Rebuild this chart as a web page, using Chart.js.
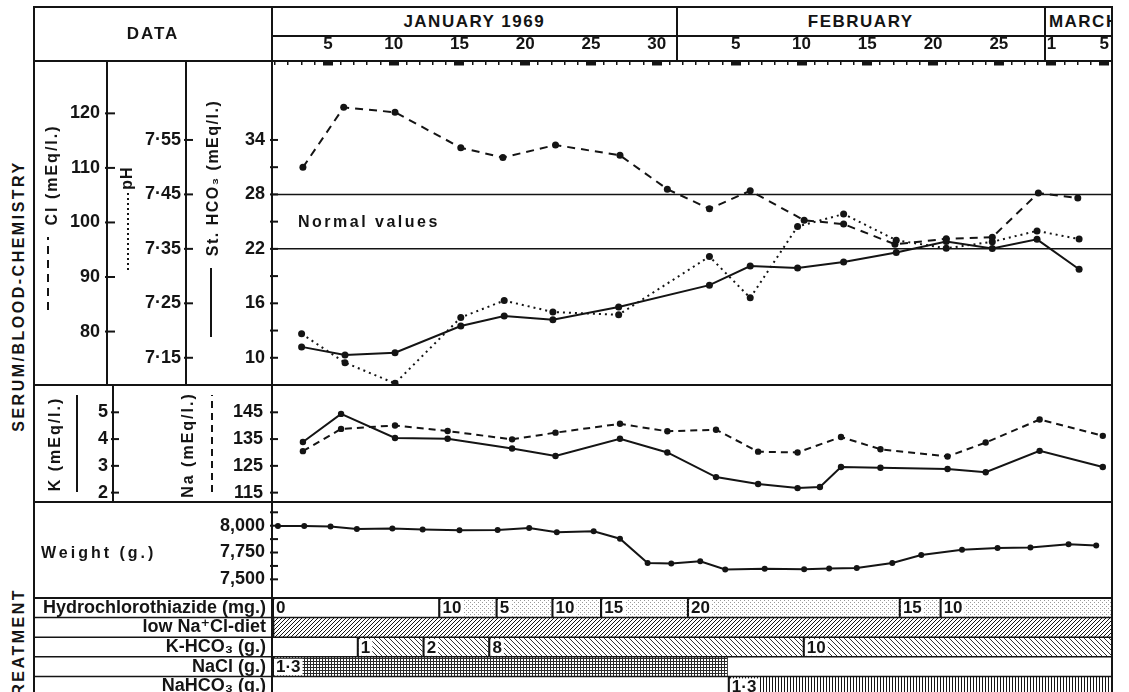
<!DOCTYPE html>
<html>
<head>
<meta charset="utf-8">
<title>Serum chemistry and treatment, Jan–Mar 1969</title>
<script src="https://cdn.jsdelivr.net/npm/chart.js@4.4.1/dist/chart.umd.min.js"></script>
<style>
  html, body { margin: 0; padding: 0; background: #fff; }
  #page {
    position: relative; width: 1129px; height: 692px; overflow: hidden; background: #fff;
    font-family: 'Liberation Sans', 'DejaVu Sans', sans-serif; font-weight: bold; color: #141414;
  }
  canvas { position: absolute; }
</style>
</head>
<body>
<div id="page">
  <canvas id="chem" width="1078" height="349" style="left:34px; top:36px"></canvas>
  <canvas id="elec" width="1078" height="117" style="left:34px; top:385px"></canvas>
  <canvas id="weight" width="1078" height="96" style="left:34px; top:502px"></canvas>
  <canvas id="treat" width="1078" height="98" style="left:34px; top:598px"></canvas>
</div>
<script>
const ink = '#141414';
Chart.defaults.font.family = "'Liberation Sans', 'DejaVu Sans', sans-serif";
Chart.defaults.font.weight = 'bold';
Chart.defaults.color = ink;

// x axis = day counted from 1 January 1969 (32 = 1 Feb, 60 = 1 Mar)
const dayRange = [0.75, 64.6];
const dayTicks = [5, 10, 15, 20, 25, 30, 36, 41, 46, 51, 56, 60, 64];
const dayTickLabels = ['5', '10', '15', '20', '25', '30', '5', '10', '15', '20', '25', '1', '5'];
const monthNames = ['JANUARY 1969', 'FEBRUARY', 'MARCH'];
const monthFirstDays = [1, 32, 60];

// serum / blood chemistry
const clDays = [3.1, 6.2, 10.1, 15.1, 18.3, 22.3, 27.2, 30.8, 34, 37.1, 41.2, 44.2, 48.1, 52, 55.5, 59, 62];
const clValues = [110.1, 121.1, 120.2, 113.7, 111.9, 114.2, 112.3, 106.1, 102.5, 105.8, 100.4, 99.7, 96.0, 97.0, 97.3, 105.4, 104.5];
const chemDays = [3, 6.3, 10.1, 15.1, 18.4, 22.1, 27.1, 34, 37.1, 40.7, 44.2, 48.2, 52, 55.5, 58.9, 62.1];
const phValues = [7.194, 7.141, 7.103, 7.224, 7.255, 7.234, 7.229, 7.336, 7.260, 7.391, 7.414, 7.366, 7.351, 7.363, 7.383, 7.368];
const hco3Values = [11.2, 10.3, 10.55, 13.5, 14.6, 14.2, 15.6, 18.0, 20.1, 19.9, 20.55, 21.6, 22.8, 22.05, 23.05, 19.75];
const normalHco3 = [22, 28];

const clRange = [70.2, 129.6];
const phRange = [7.100, 7.695];
const hco3Range = [7.0, 42.7];
const clTicks = [80, 90, 100, 110, 120];
const phTicks = [7.15, 7.25, 7.35, 7.45, 7.55];
const hco3Ticks = [10, 16, 22, 28, 34];
const hco3MinorTicks = [13, 19, 25, 31];

// electrolytes
const kDays = [3.1, 6, 10.1, 14.1, 19, 22.3, 27.2, 30.8, 34.5, 37.7, 40.7, 42.4, 44, 47, 52.1, 55, 59.1, 63.9];
const kValues = [3.89, 4.94, 4.04, 4.01, 3.65, 3.37, 4.01, 3.50, 2.58, 2.32, 2.17, 2.21, 2.96, 2.93, 2.88, 2.76, 3.56, 2.96];
const naDays = [3.1, 6, 10.1, 14.1, 19, 22.3, 27.2, 30.8, 34.5, 37.7, 40.7, 44, 47, 52.1, 55, 59.1, 63.9];
const naValues = [130.5, 138.8, 140.1, 138.0, 134.9, 137.4, 140.7, 137.9, 138.5, 130.3, 130.0, 135.8, 131.2, 128.5, 133.7, 142.3, 136.2];
const kRange = [1.65, 6.02];
const naRange = [111.5, 155.2];
const kTicks = [2, 3, 4, 5];
const naTicks = [115, 125, 135, 145];

// body weight
const weightDays = [1.2, 3.2, 5.2, 7.2, 9.9, 12.2, 15, 17.9, 20.3, 22.4, 25.2, 27.2, 29.3, 31.1, 33.3, 35.2, 38.2, 41.2, 43.1, 45.2, 47.9, 50.1, 53.2, 55.9, 58.4, 61.3, 63.4];
const weightValues = [7997, 7997, 7993, 7970, 7974, 7964, 7957, 7961, 7978, 7938, 7949, 7879, 7652, 7648, 7669, 7592, 7599, 7595, 7602, 7605, 7652, 7726, 7775, 7792, 7796, 7828, 7815];
const weightRange = [7326, 8221];
const weightTicks = [7500, 7750, 8000];
const weightMinorTicks = [7625, 7875, 8125];

// treatment
const treatmentNames = ['Hydrochlorothiazide (mg.)', 'low Na⁺Cl-diet', 'K-HCO₃ (g.)', 'NaCl (g.)', 'NaHCO₃ (g.)'];
const treatmentEnd = 64.6;
const hctzStarts = [0.75, 13.4, 17.75, 22.0, 25.7, 32.3, 48.4, 51.5];
const hctzDoses = [0, 10, 5, 10, 15, 20, 15, 10];
const dietPeriod = [0.75, 64.6];
const khco3Starts = [7.2, 12.2, 17.2, 41.1];
const khco3Doses = [1, 2, 8, 10];
const naclPeriod = [0.75, 35.4];
const naclDose = 1.3;
const nahco3Period = [35.4, 64.6];
const nahco3Dose = 1.3;

const fmtDot = v => String(v).replace('.', '·');

// ---------- helpers ----------
const hiddenX = () => ({ type: 'linear', display: false, min: dayRange[0], max: dayRange[1] });

function valueAxis(range, major, minor, fmt, width, weight, pad) {
    return {
        type: 'linear', position: 'left', min: range[0], max: range[1], weight,
        afterBuildTicks: s => { s.ticks = major.concat(minor).map(v => ({ value: v })); },
        afterFit: s => { s.width = width; s.paddingTop = 0; s.paddingBottom = 0; },
        grid: { drawOnChartArea: false, drawTicks: false },
        border: { display: true, color: ink, width: 2 },
        ticks: {
            padding: pad, autoSkip: false, color: ink,
            font: { size: 18, weight: 'bold' },
            callback: v => major.includes(v) ? fmt(v) : ''
        }
    };
}

function series(days, values, yAxisID, dash, radius) {
    return {
        yAxisID, xAxisID: 'x',
        data: days.map((d, i) => ({ x: d, y: values[i] })),
        borderColor: ink, backgroundColor: ink, borderWidth: 2, borderDash: dash,
        pointRadius: radius, pointBorderWidth: 0, pointBackgroundColor: ink,
        tension: 0, clip: false
    };
}

// tick marks that point into the next column, as on the original sheet
const innerTicks = {
    id: 'innerTicks',
    afterDraw(chart, args, opts) {
        const ctx = chart.ctx;
        ctx.save();
        ctx.strokeStyle = ink;
        ctx.lineWidth = 2;
        Object.entries(opts.axes || {}).forEach(([id, len]) => {
            const s = chart.scales[id];
            s.ticks.forEach(t => {
                const y = s.getPixelForValue(t.value);
                ctx.beginPath();
                ctx.moveTo(s.right - 2, y);
                ctx.lineTo(s.right + len, y);
                ctx.stroke();
            });
        });
        ctx.restore();
    }
};

const dayMarks = {
    id: 'dayMarks',
    afterDraw(chart) {
        const s = chart.scales.x, top = chart.chartArea.top, ctx = chart.ctx;
        ctx.save();
        ctx.fillStyle = ink;
        for (let d = Math.ceil(s.min); d <= s.max; d++) {
            ctx.fillRect(Math.round(s.getPixelForValue(d)) - 1, top, 1.5, 4);
        }
        dayTicks.forEach(d => {
            ctx.fillRect(Math.round(s.getPixelForValue(d)) - 5, top, 10, 4.5);
        });
        ctx.restore();
    }
};

const normalLines = {
    id: 'normalLines',
    beforeDatasetsDraw(chart) {
        const s = chart.scales.hco3, { left, right } = chart.chartArea, ctx = chart.ctx;
        ctx.save();
        ctx.strokeStyle = ink;
        ctx.lineWidth = 1.5;
        normalHco3.forEach(v => {
            const y = s.getPixelForValue(v);
            ctx.beginPath();
            ctx.moveTo(left, y);
            ctx.lineTo(right, y);
            ctx.stroke();
        });
        ctx.restore();
    }
};

const baseOptions = extra => Object.assign({
    responsive: false,
    animation: false,
    events: [],
    layout: { padding: 0, autoPadding: false }
}, extra);

// ---------- 1. Cl / pH / St. HCO3 ----------
const chem = new Chart(document.getElementById('chem'), {
    type: 'line',
    data: {
        datasets: [
            series(clDays, clValues, 'cl', [8, 6], 3.5),
            series(chemDays, phValues, 'ph', [2, 4], 3.5),
            series(chemDays, hco3Values, 'hco3', [], 3.5)
        ]
    },
    options: baseOptions({
        plugins: {
            legend: { display: false },
            tooltip: { enabled: false },
            innerTicks: { axes: { cl: 8, ph: 7, hco3: 6 } }
        },
        scales: {
            x: {
                type: 'linear', position: 'top', min: dayRange[0], max: dayRange[1],
                afterBuildTicks: s => { s.ticks = dayTicks.map(v => ({ value: v })); },
                afterFit: s => { s.height = 25; s.paddingLeft = 0; s.paddingRight = 0; },
                grid: { drawOnChartArea: false, drawTicks: false },
                border: { display: true, color: ink, width: 2 },
                ticks: {
                    padding: 6, autoSkip: false, maxRotation: 0, color: ink,
                    font: { size: 17, weight: 'bold' },
                    callback: v => dayTickLabels[dayTicks.indexOf(v)]
                }
            },
            cl: valueAxis(clRange, clTicks, [], v => String(v), 73, 2, 7),
            ph: valueAxis(phRange, phTicks, [], v => v.toFixed(2).replace('.', '·'), 79, 1, 5),
            hco3: valueAxis(hco3Range, hco3Ticks, hco3MinorTicks, v => String(v), 86, 0, 7)
        }
    }),
    plugins: [normalLines, innerTicks, dayMarks]
});

// ---------- 2. K / Na ----------
new Chart(document.getElementById('elec'), {
    type: 'line',
    data: {
        datasets: [
            series(kDays, kValues, 'k', [], 3.2),
            series(naDays, naValues, 'na', [7, 5], 3.2)
        ]
    },
    options: baseOptions({
        plugins: {
            legend: { display: false },
            tooltip: { enabled: false },
            innerTicks: { axes: { k: 6, na: 6 } }
        },
        scales: {
            x: hiddenX(),
            k: valueAxis(kRange, kTicks, [], v => String(v), 79, 1, 5),
            na: valueAxis(naRange, naTicks, [], v => String(v), 159, 0, 9)
        }
    }),
    plugins: [innerTicks]
});

// ---------- 3. Weight ----------
new Chart(document.getElementById('weight'), {
    type: 'line',
    data: { datasets: [series(weightDays, weightValues, 'w', [], 3)] },
    options: baseOptions({
        plugins: {
            legend: { display: false },
            tooltip: { enabled: false },
            innerTicks: { axes: { w: 6 } }
        },
        scales: {
            x: hiddenX(),
            w: valueAxis(weightRange, weightTicks, weightMinorTicks, v => v.toLocaleString('en-US'), 238, 0, 7)
        }
    }),
    plugins: [innerTicks]
});

// ---------- 4. Treatment ----------
function pattern(size, draw) {
    const c = document.createElement('canvas');
    c.width = c.height = size;
    const g = c.getContext('2d');
    draw(g, size);
    return g.createPattern(c, 'repeat');
}
const stipple = pattern(4, g => { g.fillStyle = '#9a9a9a'; g.fillRect(0, 0, 1, 1); g.fillRect(2, 2, 1, 1); });
const hatchFwd = pattern(4, (g, n) => { g.fillStyle = ink; for (let i = 0; i < n; i++) g.fillRect(i, n - 1 - i, 1, 1); });
const hatchBack = pattern(5, (g, n) => { g.fillStyle = '#333'; for (let i = 0; i < n; i++) g.fillRect(i, i, 1, 1); });
const crossHatch = pattern(3, g => { g.fillStyle = '#2a2a2a'; g.fillRect(0, 0, 3, 1); g.fillRect(0, 0, 1, 3); });
const vertHatch = pattern(3, g => { g.fillStyle = ink; g.fillRect(0, 0, 1, 3); });

const segments = (starts, row) => starts.map((s, i) => ({
    x: [s, i + 1 < starts.length ? starts[i + 1] : treatmentEnd],
    y: treatmentNames[row]
}));
const bar = (data, fill, doseLabels) => ({
    data, backgroundColor: fill, doseLabels,
    borderColor: ink, borderWidth: { left: 2, right: 0, top: 0, bottom: 0 }, borderSkipped: false,
    categoryPercentage: 1, barPercentage: 1, grouped: false
});

const doseText = {
    id: 'doseText',
    afterDatasetsDraw(chart) {
        const ctx = chart.ctx, ys = chart.scales.y;
        ctx.save();
        ctx.font = "bold 17px 'Liberation Sans', 'DejaVu Sans', sans-serif";
        ctx.textBaseline = 'middle';
        chart.data.datasets.forEach((ds, i) => {
            if (!ds.doseLabels) return;
            chart.getDatasetMeta(i).data.forEach((el, j) => {
                const txt = ds.doseLabels[j];
                if (!txt) return;
                const x = Math.min(el.base, el.x) + 2;
                const w = ctx.measureText(txt).width;
                ctx.fillStyle = '#fff';
                ctx.fillRect(x, el.y - el.height / 2 + 2, w + 4, el.height - 3);
                ctx.fillStyle = ink;
                ctx.fillText(txt, x + 2, el.y + 1);
            });
        });
        // row rules run across the whole sheet, label column included
        const n = treatmentNames.length, rowH = (ys.bottom - ys.top) / n;
        ctx.strokeStyle = ink;
        ctx.lineWidth = 1.5;
        for (let i = 1; i < n; i++) {
            const y = ys.top + i * rowH;
            ctx.beginPath();
            ctx.moveTo(0, y);
            ctx.lineTo(chart.chartArea.right, y);
            ctx.stroke();
        }
        ctx.restore();
    }
};

new Chart(document.getElementById('treat'), {
    type: 'bar',
    data: {
        labels: treatmentNames,
        datasets: [
            bar(segments(hctzStarts, 0), hctzDoses.map(d => d ? stipple : 'rgba(0,0,0,0)'), hctzDoses.map(String)),
            bar([{ x: dietPeriod, y: treatmentNames[1] }], hatchFwd, null),
            bar(segments(khco3Starts, 2), hatchBack, khco3Doses.map(String)),
            bar([{ x: naclPeriod, y: treatmentNames[3] }], crossHatch, [fmtDot(naclDose)]),
            bar([{ x: nahco3Period, y: treatmentNames[4] }], vertHatch, [fmtDot(nahco3Dose)])
        ]
    },
    options: baseOptions({
        indexAxis: 'y',
        plugins: { legend: { display: false }, tooltip: { enabled: false } },
        scales: {
            x: hiddenX(),
            y: {
                type: 'category', position: 'left',
                afterFit: s => { s.width = 238; s.paddingTop = 0; s.paddingBottom = 0; },
                grid: { drawOnChartArea: false, drawTicks: false },
                border: { display: true, color: ink, width: 2 },
                ticks: { padding: 6, autoSkip: false, color: ink, font: { size: 18, weight: 'bold' } }
            }
        }
    }),
    plugins: [doseText]
});

// ---------- sheet frame, header and column titles ----------
const page = document.getElementById('page');
function box(x, y, w, h, css) {
    const d = document.createElement('div');
    d.style.cssText = `position:absolute;left:${x}px;top:${y}px;width:${w}px;height:${h}px;` + (css || '');
    page.appendChild(d);
    return d;
}
const hline = (x1, x2, y, t = 2) => box(x1, y - t / 2, x2 - x1, t, `background:${ink}`);
const vline = (x, y1, y2, t = 2, col = ink) => box(x - t / 2, y1, t, y2 - y1, `background:${col}`);
function text(str, x, y, size, spacing, css) {
    const d = box(x, y, 'auto', 'auto', `font-size:${size}px;letter-spacing:${spacing}px;white-space:nowrap;line-height:1;` + (css || ''));
    d.style.width = 'auto';
    d.style.height = 'auto';
    d.textContent = str;
    return d;
}
function vtext(str, cx, cy, size, spacing) {
    return text(str, cx, cy, size, spacing, 'transform:translate(-50%,-50%) rotate(-90deg);');
}
function sample(x, y1, y2, dash) {
    const fill = dash
        ? `repeating-linear-gradient(to top, ${ink} 0 ${dash[0]}px, transparent ${dash[0]}px ${dash[0] + dash[1]}px)`
        : ink;
    box(x - 1, y1, 2, y2 - y1, `background:${fill}`);
}

// month cells follow the chart's own day scale
const xs = chem.scales.x;
const pageX = d => 34 + xs.getPixelForValue(d);
const monthEdges = [272].concat(monthFirstDays.slice(1).map(d => pageX(d - 0.5)), [1113]);
monthNames.forEach((name, i) => {
    const cell = box(monthEdges[i], 7, monthEdges[i + 1] - monthEdges[i], 29,
        'display:flex;align-items:center;overflow:hidden;font-size:17px;letter-spacing:1.5px;' +
        (i === monthNames.length - 1 ? 'justify-content:flex-start;padding-left:4px;box-sizing:border-box;' : 'justify-content:center;'));
    cell.textContent = name;
    if (i > 0) vline(monthEdges[i], 7, 61);
});

const dataCell = box(34, 7, 238, 54, 'display:flex;align-items:center;justify-content:center;font-size:17px;letter-spacing:2px;');
dataCell.textContent = 'DATA';

vline(34, 7, 692);
hline(33, 1113, 7);
vline(1112, 7, 692, 1.5);
vline(272, 7, 61);
hline(272, 1113, 36);
hline(33, 1113, 61);
hline(33, 1113, 385);
hline(33, 1113, 502);
hline(33, 1113, 598);

vtext('SERUM/BLOOD-CHEMISTRY', 19, 296, 16, 2.5);
vtext('TREATMENT', 19, 648, 16, 2.5);

vtext('Cl (mEq/l.)', 52, 175, 16, 2);
sample(48, 237, 310, [8, 6]);
vtext('pH', 127, 178, 16, 1);
sample(128, 193, 270, [2, 3]);
vtext('St. HCO₃ (mEq/l.)', 213, 178, 16, 1.5);
sample(211, 268, 337, null);

vtext('K  (mEq/l.)', 55, 444, 16, 2);
sample(77, 395, 492, null);
vtext('Na  (mEq/l.)', 188, 445, 16, 2);
sample(212, 395, 492, [7, 5]);

text('Weight (g.)', 41, 545, 16, 3);
text('Normal values', 298, 214, 16, 2.5);
</script>
</body>
</html>
